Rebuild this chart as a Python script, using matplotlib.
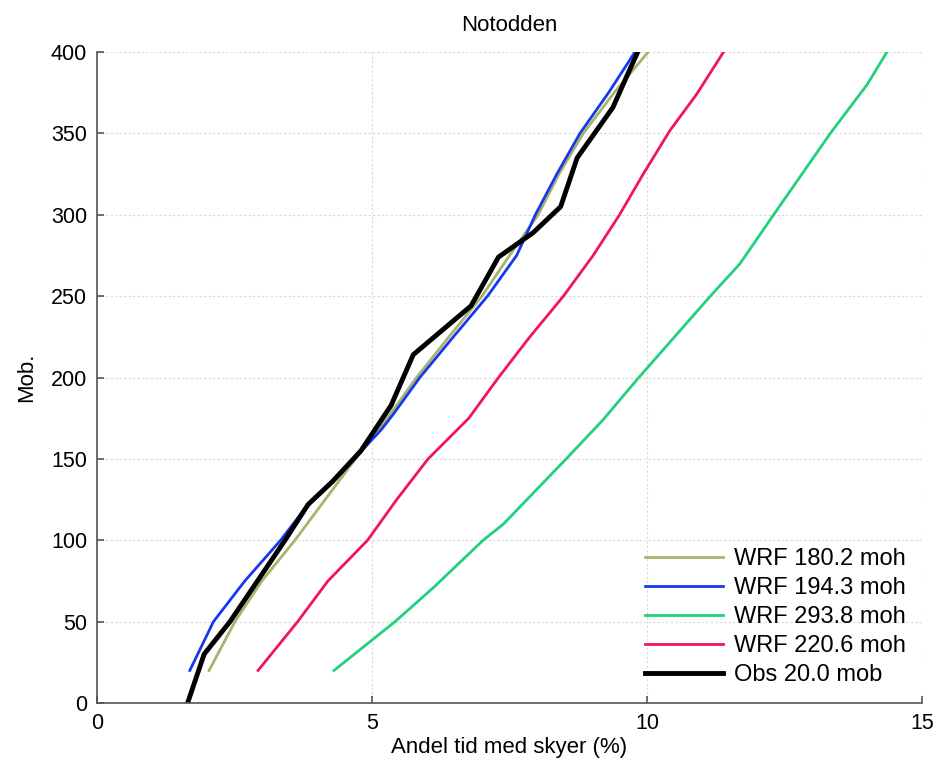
import matplotlib.pyplot as plt

plt.rcParams['font.family'] = ['Liberation Sans', 'DejaVu Sans']

# WRF 180.2 moh
olive_x = [2.04, 2.51, 3.0, 3.6, 4.15, 4.7, 5.28, 5.81, 6.4, 7.0, 7.5, 8.02, 8.4, 8.84, 9.4, 10.02]
olive_y = [20, 50, 75, 100, 125, 150, 175, 200, 225, 250, 275, 300, 325, 350, 375, 400]

# WRF 194.3 moh
blue_x = [1.69, 2.12, 2.69, 3.34, 3.84, 4.68, 5.17, 5.4, 5.87, 6.48, 7.1, 7.63, 7.97, 8.36, 8.78, 9.3, 9.78]
blue_y = [20, 50, 75, 100, 122, 150, 168, 178, 200, 225, 250, 275, 300, 325, 350, 375, 400]

# WRF 293.8 moh
green_x = [4.31, 5.42, 6.12, 7.02, 7.39, 8.53, 9.2, 9.85, 10.5, 11.15, 11.69, 12.3, 13.33, 14.0, 14.36]
green_y = [20, 50, 71, 100, 110, 150, 174, 200, 225, 250, 270, 300, 350, 380, 400]

# WRF 220.6 moh
red_x = [2.93, 3.65, 4.2, 4.92, 5.45, 6.02, 6.76, 7.3, 7.87, 8.48, 9.02, 9.5, 9.93, 10.42, 10.9, 11.39]
red_y = [20, 50, 75, 100, 125, 150, 175, 200, 225, 250, 275, 300, 325, 352, 374, 400]

# Obs 20.0 mob
obs_x = [1.65, 1.95, 2.42, 3.42, 3.84, 4.28, 4.8, 5.35, 5.75, 6.8, 7.3, 7.93, 8.43, 8.73, 9.38, 9.63, 9.83]
obs_y = [0, 30, 50, 100, 122, 136, 155, 183, 214, 244, 274, 289, 305, 335, 366, 385, 400]

fig = plt.figure(figsize=(9.4, 7.69), dpi=100)
ax = fig.add_axes([0.103, 0.0858, 0.878, 0.8465])

ax.plot(olive_x, olive_y, color='#a8b46c', lw=2.0, label='WRF 180.2 moh')
ax.plot(blue_x, blue_y, color='#1838ee', lw=2.0, label='WRF 194.3 moh')
ax.plot(green_x, green_y, color='#22d07e', lw=2.0, label='WRF 293.8 moh')
ax.plot(red_x, red_y, color='#f2145e', lw=2.0, label='WRF 220.6 moh')
ax.plot(obs_x, obs_y, color='black', lw=3.5, label='Obs 20.0 mob')

ax.set_xlim(0, 15)
ax.set_ylim(0, 400)
ax.set_xticks([0, 5, 10, 15])
ax.set_yticks(range(0, 401, 50))
ax.grid(True, color='#d8d8d8', linestyle=(0, (2, 2)), linewidth=0.8)
ax.set_axisbelow(True)

for s in ['top', 'right']:
    ax.spines[s].set_visible(False)
for s in ['left', 'bottom']:
    ax.spines[s].set_color('#555555')
    ax.spines[s].set_linewidth(1.2)
ax.tick_params(direction='in', length=5, width=1.2, color='#555555', labelsize=15.5, pad=7)

ax.set_title('Notodden', fontsize=16, pad=15)
ax.set_xlabel('Andel tid med skyer (%)', fontsize=16, labelpad=2)
ax.set_ylabel('Mob.', fontsize=16, labelpad=10)

ax.legend(loc='lower right', frameon=False, fontsize=17, handlelength=3.3,
          labelspacing=0.3, handletextpad=0.45, borderaxespad=0.3,
          bbox_to_anchor=(1.0, 0.0))

fig.savefig('out.png', dpi=100)
